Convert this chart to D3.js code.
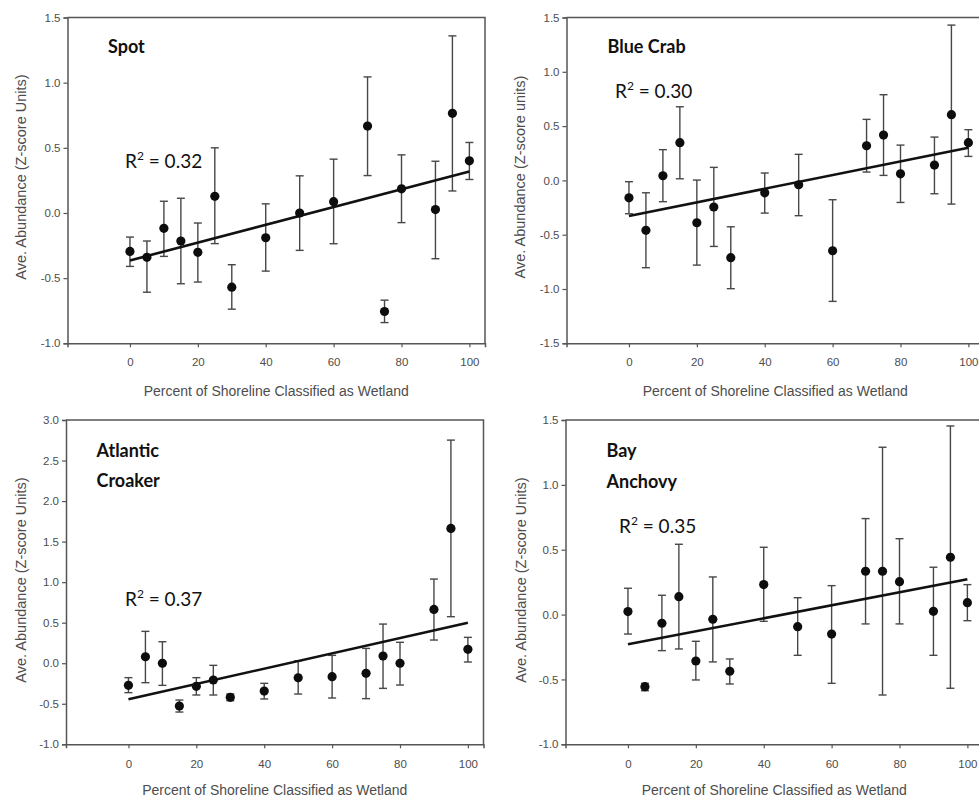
<!DOCTYPE html>
<html>
<head>
<meta charset="utf-8">
<script src="https://cdn.jsdelivr.net/npm/d3@7/dist/d3.min.js"></script>
<style>
  html, body { margin: 0; padding: 0; background: #fff; }
  svg { display: block; }
</style>
</head>
<body>
<svg id="chart" width="979" height="800"></svg>
<script>
// ---- Data ----
const wetlandPct = [0, 5, 10, 15, 20, 25, 30, 40, 50, 60, 70, 75, 80, 90, 95, 100];

const spotMean = [-0.295, -0.34, -0.118, -0.215, -0.302, 0.128, -0.569, -0.19, 0.0, 0.087, 0.667, -0.756, 0.185, 0.026, 0.765, 0.40];
const spotLow  = [-0.41, -0.608, -0.333, -0.543, -0.53, -0.235, -0.738, -0.446, -0.287, -0.236, 0.287, -0.841, -0.074, -0.351, 0.169, 0.257];
const spotHigh = [-0.185, -0.215, 0.09, 0.113, -0.077, 0.50, -0.397, 0.07, 0.285, 0.413, 1.044, -0.669, 0.446, 0.397, 1.359, 0.541];
const spotFit  = [-0.364, 0.318];

const crabMean = [-0.16, -0.46, 0.043, 0.347, -0.39, -0.245, -0.712, -0.114, -0.04, -0.648, 0.319, 0.417, 0.061, 0.141, 0.605, 0.347];
const crabLow  = [-0.307, -0.804, -0.196, 0.015, -0.78, -0.608, -0.997, -0.301, -0.325, -1.114, 0.077, 0.046, -0.203, -0.123, -0.218, 0.221];
const crabHigh = [-0.012, -0.114, 0.283, 0.678, 0.003, 0.12, -0.427, 0.068, 0.24, -0.178, 0.562, 0.789, 0.325, 0.399, 1.43, 0.467];
const crabFit  = [-0.328, 0.301];

const croakerMean = [-0.273, 0.08, 0.0, -0.528, -0.285, -0.207, -0.42, -0.343, -0.179, -0.166, -0.125, 0.089, 0.0, 0.664, 1.663, 0.171];
const croakerLow  = [-0.363, -0.24, -0.273, -0.602, -0.392, -0.392, -0.462, -0.441, -0.38, -0.429, -0.437, -0.31, -0.269, 0.286, 0.574, 0.015];
const croakerHigh = [-0.178, 0.393, 0.265, -0.454, -0.178, -0.026, -0.38, -0.248, 0.031, 0.097, 0.183, 0.483, 0.258, 1.038, 2.752, 0.319];
const croakerFit  = [-0.445, 0.50];

const anchovyMean = [0.023, -0.556, -0.067, 0.138, -0.358, -0.036, -0.437, 0.231, -0.093, -0.15, 0.334, 0.334, 0.254, 0.025, 0.442, 0.092];
const anchovyLow  = [-0.15, -0.587, -0.278, -0.265, -0.504, -0.365, -0.535, -0.052, -0.314, -0.53, -0.072, -0.62, -0.072, -0.314, -0.568, -0.047];
const anchovyHigh = [0.203, -0.53, 0.149, 0.542, -0.206, 0.29, -0.342, 0.519, 0.13, 0.223, 0.74, 1.29, 0.585, 0.365, 1.454, 0.231];
const anchovyFit  = [-0.229, 0.272];

const xTicks = [0, 20, 40, 60, 80, 100];
const yTicksSmall = [-1.0, -0.5, 0.0, 0.5, 1.0, 1.5];
const yTicksCrab = [-1.5, -1.0, -0.5, 0.0, 0.5, 1.0, 1.5];
const yTicksCroaker = [-1.0, -0.5, 0.0, 0.5, 1.0, 1.5, 2.0, 2.5, 3.0];

const speciesNames = [["Spot"], ["Blue Crab"], ["Atlantic", "Croaker"], ["Bay", "Anchovy"]];
const r2Labels = ["0.32", "0.30", "0.37", "0.35"];
const yTitles = ["Ave. Abundance (Z-score Units)", "Ave. Abundance (Z-score units)", "Ave. Abundance (Z-score Units)", "Ave. Abundance (Z-score Units)"];
const xTitle = "Percent of Shoreline Classified as Wetland";

// ---- Layout ----
const panels = [
  { mean: spotMean, low: spotLow, high: spotHigh, fit: spotFit, yDomain: [-1, 1.5], yTicks: yTicksSmall,
    left: 67.5, right: 485, top: 17.5, bottom: 343.3, nameX: 108, nameY: 52.5, r2X: 125, r2Y: 168,
    yTitleX: 26, yTitleY: 177, xTitleY: 395.5, xLabY: 366 },
  { mean: crabMean, low: crabLow, high: crabHigh, fit: crabFit, yDomain: [-1.5, 1.5], yTicks: yTicksCrab,
    left: 566.5, right: 984, top: 17.5, bottom: 343.3, nameX: 607.5, nameY: 53, r2X: 615, r2Y: 97.5,
    yTitleX: 525, yTitleY: 177, xTitleY: 395.5, xLabY: 366 },
  { mean: croakerMean, low: croakerLow, high: croakerHigh, fit: croakerFit, yDomain: [-1, 3], yTicks: yTicksCroaker,
    left: 66, right: 483.5, top: 420, bottom: 744.3, nameX: 96.5, nameY: 456.5, r2X: 125, r2Y: 605.5,
    yTitleX: 26, yTitleY: 580, xTitleY: 795, xLabY: 768 },
  { mean: anchovyMean, low: anchovyLow, high: anchovyHigh, fit: anchovyFit, yDomain: [-1, 1.5], yTicks: yTicksSmall,
    left: 565.5, right: 983, top: 420, bottom: 744.3, nameX: 606.5, nameY: 457, r2X: 619, r2Y: 533,
    yTitleX: 526, yTitleY: 580, xTitleY: 795, xLabY: 768 }
];

const svg = d3.select("#chart");
const axisColor = "#555";
const textGray = "#4d4d4d";
const sansFont = "'Liberation Sans', Arial, sans-serif";

panels.forEach((p, i) => {
  const x = d3.scaleLinear().domain([-18.4, 104.6]).range([p.left, p.right]);
  const y = d3.scaleLinear().domain(p.yDomain).range([p.bottom, p.top]);
  const g = svg.append("g");

  // frame (top & right)
  g.append("path")
    .attr("d", `M${p.left},${p.top}H${p.right}V${p.bottom}`)
    .attr("fill", "none").attr("stroke", axisColor).attr("stroke-width", 1.5);

  // y axis
  const yAxis = d3.axisLeft(y).tickValues(p.yTicks).tickFormat(d => d.toFixed(1)).tickSize(4).tickPadding(3);
  const ya = g.append("g").attr("transform", `translate(${p.left},0)`).call(yAxis);
  ya.attr("font-family", null);
  ya.select(".domain").attr("stroke", axisColor).attr("stroke-width", 1.5);
  ya.selectAll(".tick line").attr("stroke", axisColor).attr("stroke-width", 1.2);
  ya.selectAll(".tick text").attr("fill", textGray).style("font-family", sansFont).style("font-size", "11.5px");

  // x axis
  const xAxis = d3.axisBottom(x).tickValues(xTicks).tickFormat(d => String(d)).tickSize(4).tickPadding(0);
  const xa = g.append("g").attr("transform", `translate(0,${p.bottom})`).call(xAxis);
  xa.attr("font-family", null);
  xa.select(".domain").attr("stroke", axisColor).attr("stroke-width", 1.5);
  xa.selectAll(".tick line").attr("stroke", axisColor).attr("stroke-width", 1.2);
  xa.selectAll(".tick text").attr("fill", textGray).attr("dy", null).attr("y", p.xLabY - p.bottom)
    .style("font-family", sansFont).style("font-size", "11.5px");

  // axis titles
  g.append("text")
    .attr("transform", `translate(${p.yTitleX},${p.yTitleY}) rotate(-90)`)
    .attr("text-anchor", "middle").attr("fill", textGray)
    .style("font-family", sansFont).style("font-size", "14.5px")
    .text(yTitles[i]);
  g.append("text")
    .attr("x", (p.left + p.right) / 2).attr("y", p.xTitleY)
    .attr("text-anchor", "middle").attr("fill", textGray)
    .style("font-family", sansFont).style("font-size", "14px")
    .text(xTitle);

  // error bars
  const capW = 4;
  const eb = g.append("g").attr("stroke", "#474747").attr("stroke-width", 1.4).attr("fill", "none");
  wetlandPct.forEach((w, k) => {
    const cx = x(w);
    eb.append("line").attr("x1", cx).attr("x2", cx).attr("y1", y(p.low[k])).attr("y2", y(p.high[k]));
    eb.append("line").attr("x1", cx - capW).attr("x2", cx + capW).attr("y1", y(p.low[k])).attr("y2", y(p.low[k]));
    eb.append("line").attr("x1", cx - capW).attr("x2", cx + capW).attr("y1", y(p.high[k])).attr("y2", y(p.high[k]));
  });

  // regression line
  g.append("line")
    .attr("x1", x(0)).attr("y1", y(p.fit[0]))
    .attr("x2", x(100)).attr("y2", y(p.fit[1]))
    .attr("stroke", "#111").attr("stroke-width", 2.6);

  // points
  g.selectAll("circle.pt").data(wetlandPct).enter().append("circle")
    .attr("class", "pt")
    .attr("cx", d => x(d))
    .attr("cy", (d, k) => y(p.mean[k]))
    .attr("r", 4.6)
    .attr("fill", "#0d0d0d");

  // species label
  speciesNames[i].forEach((line, li) => {
    g.append("text")
      .attr("x", p.nameX).attr("y", p.nameY + li * 30.8)
      .style("font-family", "Lato, 'Open Sans', sans-serif").style("font-weight", "bold").style("font-size", "18px")
      .attr("fill", "#111")
      .text(line);
  });

  // R² label
  const r2 = g.append("text")
    .attr("x", p.r2X).attr("y", p.r2Y)
    .style("font-family", "Lato, 'Open Sans', sans-serif").style("font-size", "19px")
    .attr("fill", "#111");
  r2.append("tspan").text("R");
  r2.append("tspan").attr("dy", -8).style("font-size", "12px").text("2");
  r2.append("tspan").attr("dy", 8).text(" = " + r2Labels[i]);
});
</script>
</body>
</html>
